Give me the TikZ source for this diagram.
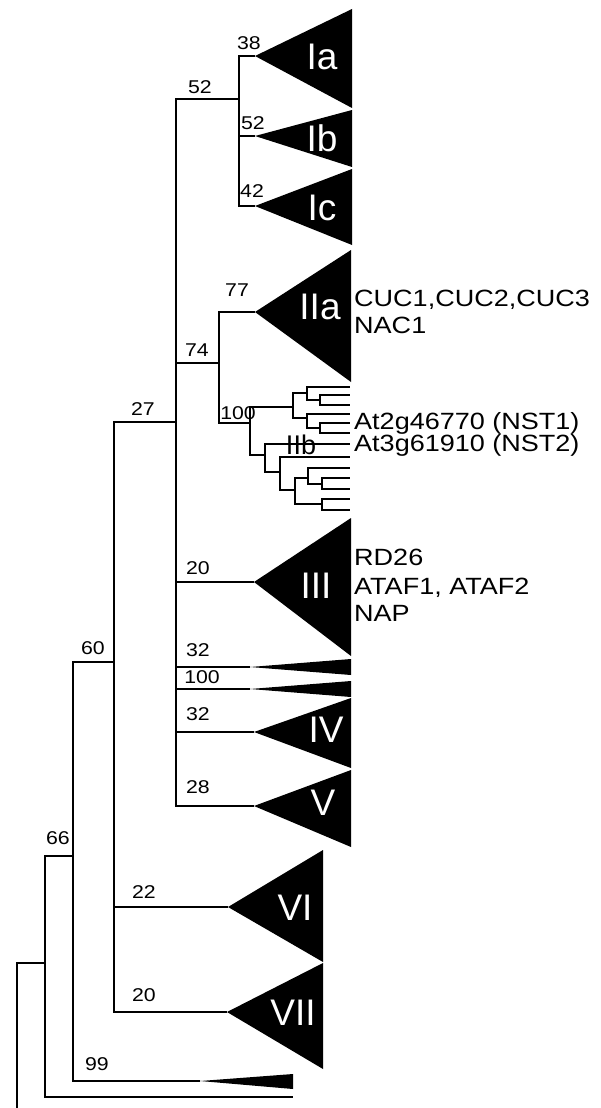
\documentclass[tikz,border=0pt]{standalone}
\usepackage{fontspec}
\setmainfont{Liberation Sans}
\newfontfamily\stretchfont[FakeStretch=1.15]{Liberation Sans}
\begin{document}
\begin{tikzpicture}[x=1pt,y=-1pt,
  br/.style={line width=2.8pt, line join=miter},
  clade/.style={fill=black},
  num/.style={font=\stretchfont\fontsize{18.5}{21}\selectfont, inner sep=0pt},
  lab/.style={font=\fontsize{37}{40}\selectfont, text=white, inner sep=0pt},
  gene/.style={font=\stretchfont\fontsize{23.5}{26}\selectfont, anchor=base west, inner sep=0pt}]
\useasboundingbox[fill=white] (0,0) rectangle (601,1108);

% ---- internal nodes ----
\coordinate (A) at (17,963);
\coordinate (Abase) at (17,1108);
\coordinate (B) at (45,963);
\coordinate (C) at (73,856);
\coordinate (Dn) at (114,662);
\coordinate (E) at (176,422);
\coordinate (F) at (239,99);
\coordinate (G) at (219,363);
\coordinate (H) at (250,423);
\coordinate (U) at (293,407);
\coordinate (K1) at (307,393);
\coordinate (P1) at (320,400);
\coordinate (K2) at (307,418);
\coordinate (P2) at (320,428);
\coordinate (J) at (265,455);
\coordinate (L) at (280,472);
\coordinate (M) at (295,490);
\coordinate (N) at (308,478);
\coordinate (P3) at (322,484);
\coordinate (P4) at (322,504);
% ---- IIb leaves ----
\coordinate (t1) at (350,387);
\coordinate (t2) at (350,395);
\coordinate (t3) at (350,405);
\coordinate (t4) at (350,414);
\coordinate (t5) at (350,423);
\coordinate (t6) at (350,433);
\coordinate (t7) at (350,444);
\coordinate (t8) at (350,457);
\coordinate (t9) at (350,468);
\coordinate (t10) at (350,478);
\coordinate (t11) at (350,489);
\coordinate (t12) at (350,499);
\coordinate (t13) at (350,510);
% ---- collapsed clade apexes ----
\coordinate (aIa) at (255,56);
\coordinate (aIb) at (255,136);
\coordinate (aIc) at (255,206);
\coordinate (aIIa) at (255,312);
\coordinate (aIII) at (254,582);
\coordinate (a32) at (250,667);
\coordinate (a100) at (250,689);
\coordinate (aIV) at (254,732);
\coordinate (aV) at (254,806);
\coordinate (aVI) at (228,907);
\coordinate (aVII) at (227,1012);
\coordinate (a99) at (200,1081);
\coordinate (tout) at (293,1097);

% ---- collapsed clades ----
\fill[clade] (aIa) -- (352,9) -- (352,108) -- cycle;
\fill[clade] (aIb) -- (352,110) -- (352,167) -- cycle;
\fill[clade] (aIc) -- (352,169) -- (352,245) -- cycle;
\fill[clade] (aIIa) -- (351,250) -- (351,382) -- cycle;
\fill[clade] (aIII) -- (351,518) -- (351,656) -- cycle;
\fill[clade] (a32) -- (351,659) -- (351,675) -- cycle;
\fill[clade] (a100) -- (351,681) -- (351,697) -- cycle;
\fill[clade] (aIV) -- (351,698) -- (351,768) -- cycle;
\fill[clade] (aV) -- (351,770) -- (351,847) -- cycle;
\fill[clade] (aVI) -- (323,850) -- (323,962) -- cycle;
\fill[clade] (aVII) -- (323,963) -- (323,1069) -- cycle;
\fill[clade] (a99) -- (293,1074) -- (293,1089) -- cycle;

% ---- branches ----
\draw[br] (Abase) -- (A) -- (B);
\draw[br] (B) |- (C);
\draw[br] (B) |- (tout);
\draw[br] (C) |- (Dn);
\draw[br] (C) |- (a99);
\draw[br] (Dn) |- (E);
\draw[br] (Dn) |- (aVI);
\draw[br] (Dn) |- (aVII);
\draw[br] (E) |- (F);
\draw[br] (E) |- (G);
\draw[br] (E) |- (aIII);
\draw[br] (E) |- (a32);
\draw[br] (E) |- (a100);
\draw[br] (E) |- (aIV);
\draw[br] (E) |- (aV);
\draw[br] (F) |- (aIa);
\draw[br] (F) |- (aIb);
\draw[br] (F) |- (aIc);
\draw[br] (G) |- (aIIa);
\draw[br] (G) |- (H);
\draw[br] (H) |- (U);
\draw[br] (H) |- (J);
\draw[br] (U) |- (K1);
\draw[br] (U) |- (K2);
\draw[br] (K1) |- (t1);
\draw[br] (K1) |- (P1);
\draw[br] (P1) |- (t2);
\draw[br] (P1) |- (t3);
\draw[br] (K2) |- (t4);
\draw[br] (K2) |- (P2);
\draw[br] (P2) |- (t5);
\draw[br] (P2) |- (t6);
\draw[br] (J) |- (t7);
\draw[br] (J) |- (L);
\draw[br] (L) |- (t8);
\draw[br] (L) |- (M);
\draw[br] (M) |- (N);
\draw[br] (M) |- (P4);
\draw[br] (N) |- (t9);
\draw[br] (N) |- (P3);
\draw[br] (P3) |- (t10);
\draw[br] (P3) |- (t11);
\draw[br] (P4) |- (t12);
\draw[br] (P4) |- (t13);

% ---- support values ----
\node[num] (s38) at (249,43) {38};
\node[num] (s52a) at (200,87) {52};
\node[num] (s52b) at (253,123) {52};
\node[num] (s42) at (252,191) {42};
\node[num] (s77) at (237,290) {77};
\node[num] (s74) at (197,350) {74};
\node[num] (s27) at (143,409) {27};
\node[num] (s100a) at (238,413) {100};
\node[num] (s20a) at (198,568) {20};
\node[num] (s32a) at (198,650) {32};
\node[num] (s100b) at (202,677) {100};
\node[num] (s32b) at (198,714) {32};
\node[num] (s28) at (198,787) {28};
\node[num] (s60) at (93,648) {60};
\node[num] (s66) at (58,838) {66};
\node[num] (s22) at (144,892) {22};
\node[num] (s20b) at (144,995) {20};
\node[num] (s99) at (97,1064) {99};

% ---- clade names ----
\node[lab] (cIa) at (322,57) {Ia};
\node[lab] (cIb) at (322,138) {Ib};
\node[lab] (cIc) at (322,208) {Ic};
\node[lab] (cIIa) at (320,307) {IIa};
\node[inner sep=0pt, font=\fontsize{27}{30}\selectfont] (cIIb) at (301,445) {IIb};
\node[lab] (cIII) at (316,586) {III};
\node[lab] (cIV) at (326,730) {IV};
\node[lab] (cV) at (323,803) {V};
\node[lab] (cVI) at (295,908) {VI};
\node[lab] (cVII) at (293,1013) {VII};

% ---- gene names ----
\node[gene] (g1) at (354,306) {CUC1,CUC2,CUC3};
\node[gene] (g2) at (354,333) {NAC1};
\node[gene] (g3) at (354,429) {At2g46770 (NST1)};
\node[gene] (g4) at (354,451) {At3g61910 (NST2)};
\node[gene] (g5) at (354,565) {RD26};
\node[gene] (g6) at (354,594) {ATAF1, ATAF2};
\node[gene] (g7) at (354,621) {NAP};
\end{tikzpicture}
\end{document}
